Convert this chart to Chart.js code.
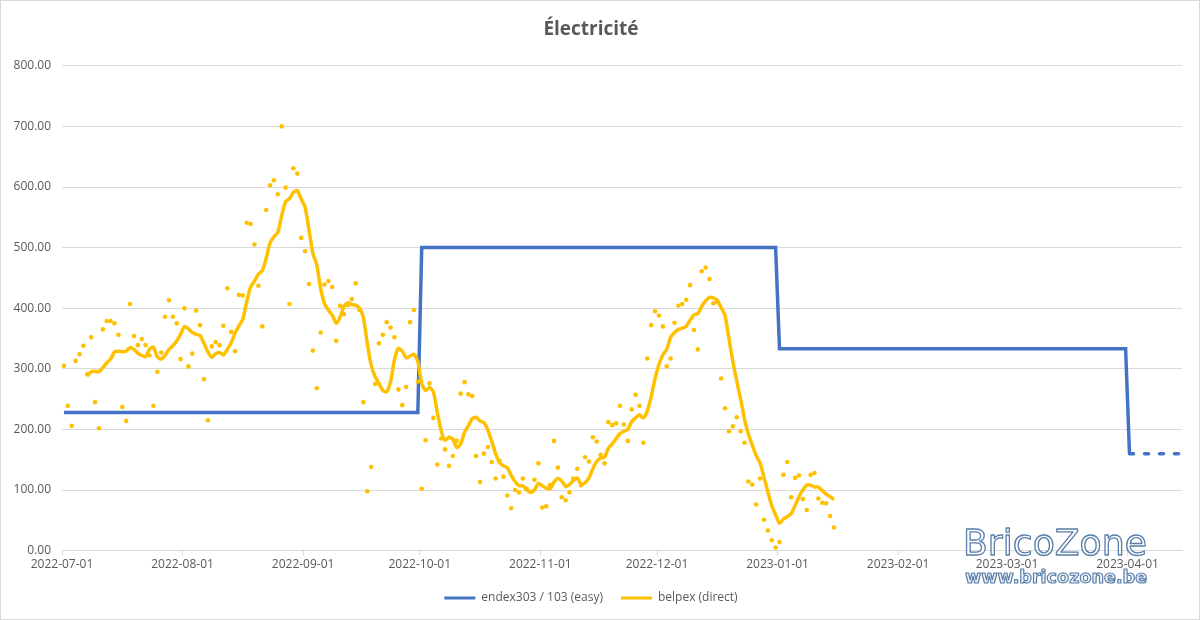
<!DOCTYPE html>
<html>
<head>
<meta charset="utf-8">
<script src="https://cdn.jsdelivr.net/npm/chart.js@4.4.1/dist/chart.umd.min.js"></script>
<style>
  html, body { margin: 0; padding: 0; background: #fff; }
  #wrap { width: 1200px; height: 620px; position: relative; }
</style>
</head>
<body>
<div id="wrap"><canvas id="myChart"></canvas></div>
<script>
// --- data ---
const startDate = "2022-07-01";
const endDate = "2023-04-15";
const tickLabels = ["2022-07-01", "2022-08-01", "2022-09-01", "2022-10-01", "2022-11-01",
  "2022-12-01", "2023-01-01", "2023-02-01", "2023-03-01", "2023-04-01"];

// endex303 / 103 (easy) : step points
const endexDates = ["2022-07-01", "2022-09-30", "2022-10-01", "2022-12-31",
  "2023-01-01", "2023-03-31", "2023-04-01", "2023-04-14"];
const endexValues = [228, 228, 500, 500, 333, 333, 160, 160];

// belpex daily price, one value a day from 2022-07-01
const belpexDaily = [
  305, 239, 206, 313, 324, 338, 291, 352, 245, 202,
  365, 379, 379, 375, 356, 237, 214, 407, 354, 339,
  349, 339, 322, 239, 295, 327, 386, 413, 386, 375,
  316, 400, 304, 325, 396, 372, 283, 215, 337, 344,
  339, 371, 433, 361, 329, 422, 421, 541, 539, 505,
  437, 370, 562, 603, 611, 588, 700, 599, 407, 631,
  622, 516, 494, 440, 330, 268, 360, 439, 445, 435,
  346, 404, 390, 405, 415, 441, 397, 245, 98, 138,
  275, 342, 356, 377, 368, 352, 266, 240, 270, 377,
  397, 279, 102, 182, 276, 219, 142, 185, 167, 140,
  156, 181, 259, 278, 258, 255, 156, 113, 160, 171,
  146, 119, 148, 122, 91, 70, 100, 96, 119, 102,
  97, 117, 144, 71, 73, 108, 181, 137, 88, 83,
  96, 119, 135, 108, 154, 147, 187, 180, 158, 144,
  212, 207, 210, 239, 208, 181, 233, 257, 239, 178,
  317, 372, 395, 388, 370, 304, 317, 376, 404, 407,
  414, 438, 364, 332, 461, 467, 448, 408, 410, 284,
  235, 197, 205, 220, 197, 178, 114, 109, 76, 119,
  51, 33, 17, 5, 14, 125, 146, 88, 120, 124,
  85, 67, 125, 128, 86, 79, 78, 57, 38
];

// belpex smoothed curve, daily from 2022-07-07
const belpexAvgStart = "2022-07-07";
const belpexAvg = [
  288, 295, 296, 295, 302, 310, 316, 328, 329, 328, 329, 335, 332, 326, 322, 320,
  332, 336, 320, 316, 322, 332, 338, 346,
  357, 370, 366, 360, 357, 355, 342, 328, 319, 325,
  327, 323, 332, 343, 359, 371, 382, 411, 435, 445,
  456, 462, 482, 508, 518, 525, 553, 576, 581, 591,
  594, 580, 567, 530, 491, 472, 433, 407, 397, 388,
  375, 385, 403, 409, 406, 405, 400, 385, 342, 306,
  287, 276, 264, 262, 279, 315, 334, 329, 318, 321,
  324, 312, 276, 264, 269, 262, 228, 198, 182, 187,
  184, 170, 176, 195, 206, 218, 220, 214, 211, 199,
  180, 160, 145, 140, 137, 124, 114, 107, 107, 100,
  96, 100, 111, 107, 103, 102, 113, 119, 115, 106,
  109, 116, 120, 109, 112, 120, 135, 147, 153, 154,
  169, 176, 185, 193, 197, 200, 213, 219, 224, 219,
  230, 254, 284, 307, 323, 332, 352, 360, 365, 367,
  370, 380, 389, 391, 403, 412, 418, 417, 413, 401,
  388, 350, 312, 280, 250, 217, 192, 174, 157, 145,
  121, 97, 74, 59, 45, 52, 56, 61, 74, 89,
  100, 108, 108, 105, 105, 99, 93, 89, 84
];

const dayIndex = (s) => (Date.parse(s) - Date.parse(startDate)) / 86400000;

const endexPoints = endexDates.map((d, i) => ({ x: dayIndex(d), y: endexValues[i] }));
const dailyPoints = belpexDaily.map((v, i) => ({ x: i, y: v }));
const avgOffset = dayIndex(belpexAvgStart);
const avgPoints = belpexAvg.map((v, i) => ({ x: avgOffset + i, y: v }));
const tickValues = tickLabels.map((t) => dayIndex(t) - 0.5);

const grey = "#595959";
const blue = "#4472C4";
const gold = "#FFC000";

const frame = {
  id: "frame",
  afterDraw(chart) {
    const c = chart.ctx;
    c.save();
    c.strokeStyle = "#d9d9d9";
    c.lineWidth = 1;
    c.strokeRect(0.5, 0.5, chart.width - 1, chart.height - 1);

    // watermark
    c.lineJoin = "round";
    c.textBaseline = "alphabetic";
    c.textAlign = "left";
    c.font = '36px "DejaVu Sans"';
    let w = c.measureText("BricoZone").width;
    let size = 36 * 184 / w;
    c.font = size.toFixed(1) + 'px "DejaVu Sans"';
    c.fillStyle = "rgba(255,255,255,0.85)";
    c.strokeStyle = "#5a7fa8";
    c.lineWidth = 1.3;
    c.fillText("BricoZone", 963, 555);
    c.strokeText("BricoZone", 963, 555);

    c.font = 'bold 20px "DejaVu Sans"';
    w = c.measureText("www.bricozone.be").width;
    size = 20 * 182 / w;
    c.font = "bold " + size.toFixed(1) + 'px "DejaVu Sans"';
    c.fillStyle = "rgba(235,242,250,0.9)";
    c.lineWidth = 1.2;
    c.fillText("www.bricozone.be", 965, 583);
    c.strokeText("www.bricozone.be", 965, 583);
    c.restore();
  },
};

new Chart(document.getElementById("myChart"), {
  type: "line",
  data: {
    datasets: [
      {
        label: "endex303 / 103 (easy)",
        data: endexPoints,
        borderColor: blue,
        backgroundColor: blue,
        borderWidth: 3.5,
        pointRadius: 0,
        tension: 0,
        order: 3,
        segment: {
          borderDash: (ctx) => (ctx.p0DataIndex === endexPoints.length - 2 ? [4, 11] : undefined),
          borderCapStyle: (ctx) => (ctx.p0DataIndex === endexPoints.length - 2 ? "round" : "butt"),
        },
      },
      {
        label: "belpex (direct)",
        data: avgPoints,
        borderColor: gold,
        backgroundColor: gold,
        borderWidth: 3.5,
        pointRadius: 0,
        tension: 0.2,
        order: 1,
      },
      {
        label: "belpex daily",
        data: dailyPoints,
        showLine: false,
        borderColor: gold,
        backgroundColor: gold,
        borderWidth: 0,
        pointRadius: 2.3,
        order: 2,
      },
    ],
  },
  options: {
    responsive: true,
    maintainAspectRatio: false,
    animation: false,
    layout: { padding: { left: 0, right: 18, top: 0, bottom: 6 } },
    plugins: {
      tooltip: { enabled: false },
      title: {
        display: true,
        text: "Électricité",
        color: grey,
        font: { family: "Open Sans", size: 19, weight: "bold" },
        padding: { top: 18, bottom: 25 },
      },
      legend: {
        position: "bottom",
        labels: {
          color: grey,
          font: { family: "Open Sans", size: 12 },
          boxWidth: 31,
          boxHeight: 3,
          padding: 18,
          filter: (item) => item.datasetIndex !== 2,
          generateLabels: (chart) =>
            chart.data.datasets.map((ds, i) => ({
              text: ds.label,
              fillStyle: ds.borderColor,
              strokeStyle: ds.borderColor,
              lineWidth: 0,
              datasetIndex: i,
              fontColor: grey,
            })),
        },
      },
    },
    scales: {
      x: {
        type: "linear",
        min: -0.5,
        max: dayIndex(endDate) - 0.5,
        afterBuildTicks: (scale) => {
          scale.ticks = tickValues.map((v) => ({ value: v }));
        },
        ticks: {
          color: grey,
          font: { family: "Open Sans", size: 12 },
          maxRotation: 0,
          autoSkip: false,
          padding: 2,
          callback: (v) => tickLabels[tickValues.indexOf(v)],
        },
        grid: { drawOnChartArea: false, drawTicks: true, tickLength: 5, color: "#d9d9d9" },
        border: { color: "#d9d9d9" },
      },
      y: {
        min: 0,
        max: 800,
        afterFit: (scale) => { scale.width = 62; },
        ticks: {
          stepSize: 100,
          color: grey,
          font: { family: "Open Sans", size: 12 },
          padding: 11,
          callback: (v) => v.toFixed(2),
        },
        grid: { color: "#d9d9d9", drawTicks: false },
        border: { display: false },
      },
    },
  },
  plugins: [frame],
});
</script>
</body>
</html>
